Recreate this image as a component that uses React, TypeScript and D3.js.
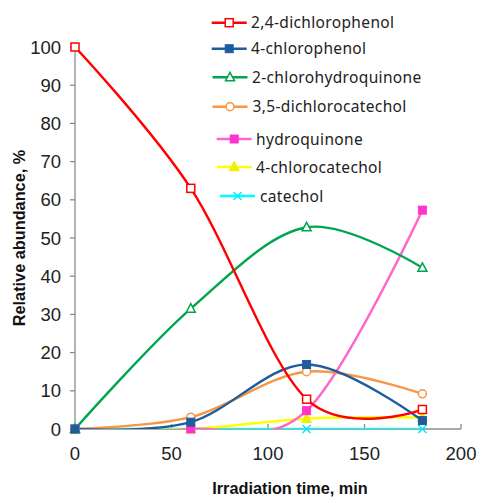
import React from "react";
import * as d3 from "d3";

const times = [0, 60, 120, 180];
const seriesNames = [
  "2,4-dichlorophenol",
  "4-chlorophenol",
  "2-chlorohydroquinone",
  "3,5-dichlorocatechol",
  "hydroquinone",
  "4-chlorocatechol",
  "catechol",
];
const dichlorophenol = [100, 63, 7.8, 5.1];
const chlorophenol = [0, 1.8, 16.9, 2.2];
const chlorohydroquinone = [0, 31.5, 52.8, 42.2];
const dichlorocatechol = [0, 3.1, 15, 9.2];
const hydroquinone = [0, 0, 4.8, 57.3];
const chlorocatechol = [0, 0, 2.7, 3.0];
const catechol = [0, 0, 0, 0];
const xTicks = [0, 50, 100, 150, 200];
const yTicks = [0, 10, 20, 30, 40, 50, 60, 70, 80, 90, 100];

const seriesValues = [
  dichlorophenol,
  chlorophenol,
  chlorohydroquinone,
  dichlorocatechol,
  hydroquinone,
  chlorocatechol,
  catechol,
];
const colors = ["#ff0000", "#1f5c9e", "#00a550", "#f79646", "#ff66cc", "#ffff00", "#00ffff"];
const markerColors = ["#ff0000", "#1f5c9e", "#00a550", "#f79646", "#ff33cc", "#f0f000", "#00e8ff"];
const markers = ["squareOpen", "squareFilled", "triOpen", "circleOpen", "squareFilled", "triFilled", "x"];

const W = 478;
const H = 498;
const x = d3.scaleLinear().domain([0, 200]).range([75, 461]);
const y = d3.scaleLinear().domain([0, 100]).range([429, 47]);

function Marker({ type, cx, cy, color }: { type: string; cx: number; cy: number; color: string }) {
  const s = 4;
  if (type === "squareOpen")
    return <rect x={cx - s} y={cy - s} width={2 * s} height={2 * s} fill="white" stroke={color} strokeWidth={1.5} />;
  if (type === "squareFilled")
    return <rect x={cx - s} y={cy - s} width={2 * s} height={2 * s} fill={color} stroke={color} strokeWidth={1} />;
  if (type === "circleOpen")
    return <circle cx={cx} cy={cy} r={s} fill="white" stroke={color} strokeWidth={1.5} />;
  if (type === "triOpen" || type === "triFilled") {
    const p = `${cx},${cy - s - 1} ${cx + s + 0.5},${cy + s - 0.5} ${cx - s - 0.5},${cy + s - 0.5}`;
    return (
      <polygon points={p} fill={type === "triOpen" ? "white" : color} stroke={color} strokeWidth={1.5} />
    );
  }
  return (
    <g stroke={color} strokeWidth={1.5}>
      <line x1={cx - s} y1={cy - s} x2={cx + s} y2={cy + s} />
      <line x1={cx - s} y1={cy + s} x2={cx + s} y2={cy - s} />
    </g>
  );
}

const legendRows = [
  { y: 22.7, x1: 211.7, x2: 246.7, tx: 251 },
  { y: 48.7, x1: 211.7, x2: 246.7, tx: 251 },
  { y: 77.3, x1: 212.5, x2: 247.5, tx: 252 },
  { y: 106.7, x1: 212.5, x2: 247.5, tx: 252.5 },
  { y: 139, x1: 216.7, x2: 251.7, tx: 256 },
  { y: 167, x1: 216.7, x2: 251.7, tx: 256 },
  { y: 196, x1: 220, x2: 255, tx: 260 },
];

export default function App() {
  const line = d3
    .line<number>()
    .x((_, i) => x(times[i]))
    .y((d) => y(d))
    .curve(d3.curveCardinal.tension(0));
  const drawOrder = [6, 5, 4, 3, 2, 1, 0];
  return (
    <svg
      width={W}
      height={H}
      style={{ position: "absolute", left: 0, top: 0, background: "white" }}
      fontFamily="Liberation Sans, Arial, sans-serif"
    >
      <defs>
        <clipPath id="plot">
          <rect x={x(0)} y={y(100) - 10} width={x(200) - x(0)} height={y(0) - y(100) + 10} />
        </clipPath>
      </defs>
      {/* axes */}
      <g stroke="#8c8c8c" strokeWidth={1.3} fill="none">
        <line x1={x(0)} y1={y(0)} x2={x(200)} y2={y(0)} />
        <line x1={x(0)} y1={y(0)} x2={x(0)} y2={y(100)} />
        {xTicks.map((t) => (
          <line key={"xt" + t} x1={x(t)} x2={x(t)} y1={y(0)} y2={y(0) - 5} />
        ))}
        {yTicks.map((t) => (
          <line key={"yt" + t} x1={x(0) - 5} x2={x(0)} y1={y(t)} y2={y(t)} />
        ))}
      </g>
      <g fontSize={18.5} fill="#222">
        {xTicks.map((t) => (
          <text key={"xl" + t} x={x(t)} y={460} textAnchor="middle">
            {t}
          </text>
        ))}
        {yTicks.map((t) => (
          <text key={"yl" + t} x={61} y={y(t) + 6.5} textAnchor="end">
            {t}
          </text>
        ))}
      </g>
      <text x={290} y={494} textAnchor="middle" fontWeight="bold" fontSize={16.3} fill="#111">
        Irradiation time, min
      </text>
      <text
        transform={`translate(25,${238}) rotate(-90)`}
        textAnchor="middle"
        fontWeight="bold"
        fontSize={16.3}
        fill="#111"
      >
        Relative abundance, %
      </text>
      {/* series */}
      <g clipPath="url(#plot)">
        {drawOrder.map((si) => (
          <path
            key={"l" + si}
            d={line(seriesValues[si]) || ""}
            fill="none"
            stroke={colors[si]}
            strokeWidth={2.4}
          />
        ))}
      </g>
      {drawOrder.map((si) => (
        <g key={"m" + si}>
          {seriesValues[si].map((v, i) => (
            <Marker key={i} type={markers[si]} cx={x(times[i])} cy={y(v)} color={markerColors[si]} />
          ))}
        </g>
      ))}
      {/* legend */}
      <g fontFamily="Noto Sans, Open Sans, sans-serif" fontSize={15.5} letterSpacing={0.35} fill="#222">
        {seriesNames.map((n, i) => {
          const r = legendRows[i];
          return (
            <g key={"lg" + i}>
              <line x1={r.x1} x2={r.x2} y1={r.y} y2={r.y} stroke={colors[i]} strokeWidth={2.4} />
              <Marker type={markers[i]} cx={(r.x1 + r.x2) / 2} cy={r.y} color={markerColors[i]} />
              <text x={r.tx} y={r.y + 5.5}>
                {n}
              </text>
            </g>
          );
        })}
      </g>
    </svg>
  );
}
